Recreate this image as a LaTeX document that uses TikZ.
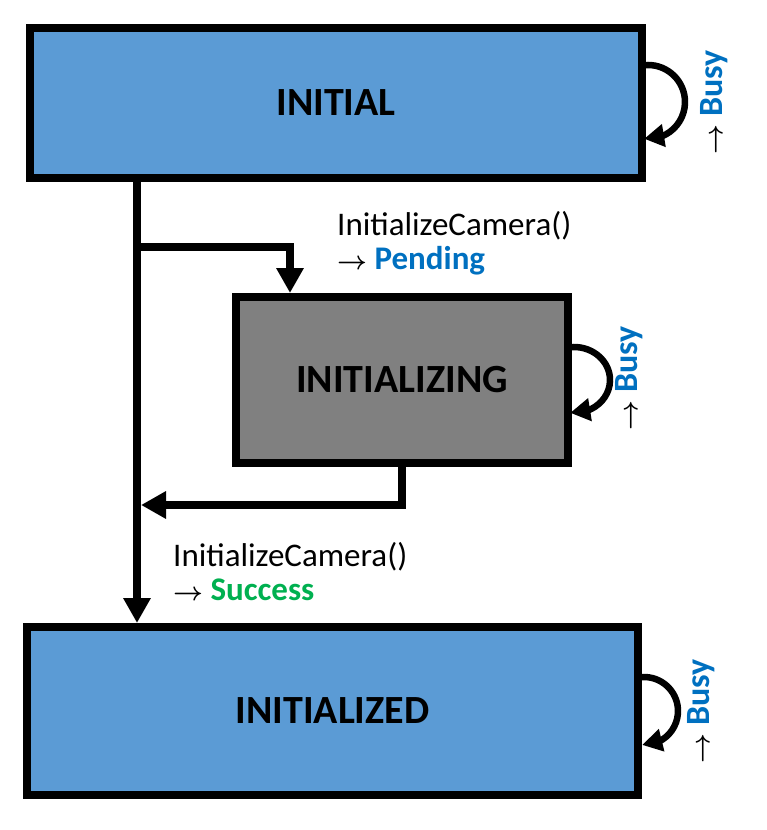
\documentclass[tikz,border=0pt]{standalone}
\usepackage{fix-cm}
\usepackage{fontspec}
\setmainfont{Carlito}
\usetikzlibrary{arrows.meta,bending}
\definecolor{boxblue}{HTML}{5B9BD5}
\definecolor{boxgray}{HTML}{808080}
\definecolor{txtblue}{HTML}{0070C0}
\definecolor{txtgreen}{HTML}{00B050}
\newcommand{\rarr}{{\fontsize{26}{26}\selectfont\boldmath$\rightarrow$}}
\begin{document}
\begin{tikzpicture}[x=1pt,y=-1pt,
  state/.style={draw=black, line width=8pt, inner sep=0pt, font=\fontsize{40}{48}\selectfont\bfseries},
  conn/.style={line width=8pt, -{Triangle[width=26pt,length=25pt]}},
  loopar/.style={line width=6.5pt, -{Triangle[width=22pt,length=20pt]}},
  lbl/.style={anchor=base west, inner sep=0pt, align=left, font=\fontsize{33}{34}\selectfont},
  busy/.style={rotate=90, inner sep=0pt, font=\fontsize{34}{34}\selectfont}]
\useasboundingbox (0,0) rectangle (767,830);

\node[state, fill=boxblue, minimum width=612pt, minimum height=150pt] (initial) at (336,103) {INITIAL};
\node[state, fill=boxgray, minimum width=332pt, minimum height=166pt] (initializing) at (402,380) {INITIALIZING};
\node[state, fill=boxblue, minimum width=611pt, minimum height=168pt] (initialized) at (332.5,711) {INITIALIZED};

% main connectors
\coordinate (split) at (137,247);
\coordinate (branchx) at (290,247);
\coordinate (ret) at (402,505);
\coordinate (retend) at (141,505);
\draw[conn] (initial.south -| split) -- (initialized.north -| split);
\draw[conn] ([xshift=-4pt]split) -- (branchx) -- (initializing.north -| branchx);
\draw[conn] (initializing.south -| ret) -- (ret) -- (retend);

% self loops
\draw[loopar] (648,102) ++(-96:37) arc[start angle=-96, end angle=96, radius=37];
\draw[loopar] (574,380) ++(-96:36 and 33) arc[start angle=-96, end angle=96, x radius=36, y radius=33];
\draw[loopar] (644,711) ++(-93:34) arc[start angle=-93, end angle=93, radius=34];

% labels (anchored at the baseline of the second line)
\node[lbl] (l1) at (337,269) {InitializeCamera()\\\rarr\ \textcolor{txtblue}{\bfseries Pending}};
\node[lbl] (l2) at (173,600) {InitializeCamera()\\\rarr\ \textcolor{txtgreen}{\bfseries Success}};

\node[busy] (busy1) at (714,102) {\rarr\ \textcolor{txtblue}{\bfseries Busy}};
\node[busy] (busy2) at (629,378) {\rarr\ \textcolor{txtblue}{\bfseries Busy}};
\node[busy] (busy3) at (701,711) {\rarr\ \textcolor{txtblue}{\bfseries Busy}};
\end{tikzpicture}
\end{document}
